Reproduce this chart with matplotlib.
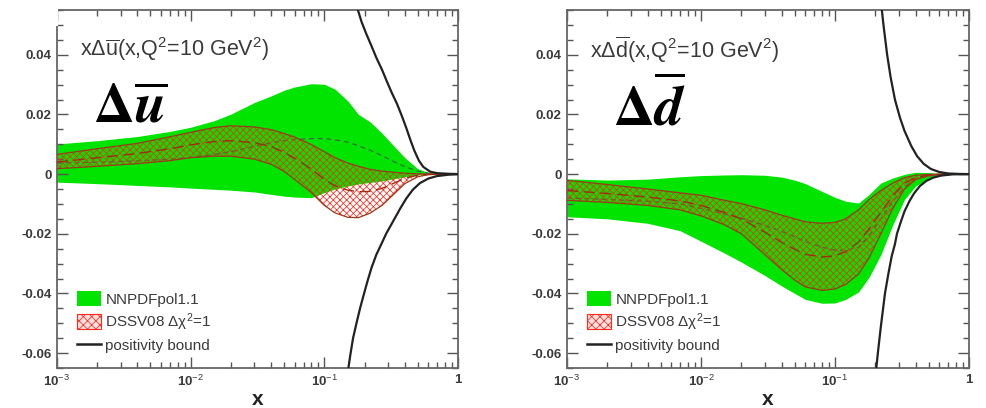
import numpy as np
import matplotlib
matplotlib.use("Agg")
import matplotlib.pyplot as plt
from matplotlib.patches import Patch, Rectangle
from matplotlib.lines import Line2D
from matplotlib.ticker import FixedLocator, LogLocator, MultipleLocator, FuncFormatter, NullFormatter

plt.rcParams['font.family'] = ['Liberation Sans', 'DejaVu Sans']
plt.rcParams['mathtext.fontset'] = 'custom'
plt.rcParams['mathtext.rm'] = 'Liberation Sans'
plt.rcParams['mathtext.it'] = 'Liberation Sans:italic'
plt.rcParams['mathtext.bf'] = 'Liberation Sans:bold'
plt.rcParams['hatch.linewidth'] = 0.55

# ---- data ----
x_grid = [0.001, 0.002, 0.004, 0.007, 0.01, 0.015, 0.02, 0.03, 0.04, 0.05, 0.06, 0.08,
          0.1, 0.12, 0.15, 0.18, 0.22, 0.27, 0.33, 0.4, 0.5, 0.6, 0.75, 1.0]

# x*Delta ubar
ubar_nn_hi = [0.0101, 0.0112, 0.0126, 0.0143, 0.0157, 0.0179, 0.0201, 0.0240, 0.0262, 0.0281, 0.0292, 0.0303,
              0.0301, 0.0285, 0.0245, 0.0200, 0.0175, 0.0137, 0.0095, 0.0055, 0.0018, 0.0005, 0.0001, 0.0]
ubar_nn_lo = [-0.0027, -0.0032, -0.0038, -0.0043, -0.0047, -0.0051, -0.0054, -0.0060, -0.0068, -0.0074, -0.0077, -0.0079,
              -0.0062, -0.0050, -0.0040, -0.0033, -0.0028, -0.0023, -0.0016, -0.0009, -0.0003, -0.0001, 0.0, 0.0]
ubar_nn_mid = [0.0037, 0.0040, 0.0044, 0.0050, 0.0056, 0.0066, 0.0075, 0.0093, 0.0105, 0.0112, 0.0116, 0.0119,
               0.0119, 0.0115, 0.0107, 0.0095, 0.0080, 0.0062, 0.0042, 0.0025, 0.0010, 0.0003, 0.0001, 0.0]
ubar_ds_hi = [0.0066, 0.0085, 0.0103, 0.0125, 0.0140, 0.0156, 0.0162, 0.0158, 0.0149, 0.0136, 0.0124, 0.0099,
              0.0075, 0.0055, 0.0037, 0.0026, 0.0016, 0.0010, 0.0006, 0.0003, 0.0001, 0.0, 0.0, 0.0]
ubar_ds_lo = [0.0018, 0.0026, 0.0035, 0.0045, 0.0055, 0.0060, 0.0060, 0.0050, 0.0033, 0.0009, -0.0018, -0.0062,
              -0.0105, -0.0130, -0.0145, -0.0146, -0.0131, -0.0105, -0.0068, -0.0032, -0.0009, -0.0002, 0.0, 0.0]
ubar_ds_mid = [0.0040, 0.0055, 0.0069, 0.0085, 0.0098, 0.0109, 0.0112, 0.0105, 0.0092, 0.0073, 0.0053, 0.0017,
               -0.0018, -0.0039, -0.0054, -0.0059, -0.0058, -0.0048, -0.0031, -0.0014, -0.0004, -0.0001, 0.0, 0.0]

# x*Delta dbar
dbar_nn_hi = [-0.0016, -0.0020, -0.0017, -0.0009, -0.0005, -0.0003, -0.0002, -0.0004, -0.0010, -0.0020, -0.0032, -0.0058,
              -0.0078, -0.0091, -0.0097, -0.0068, -0.0030, -0.0013, -0.0001, 0.0006, 0.0005, 0.0002, 0.0001, 0.0]
dbar_nn_lo = [-0.0143, -0.0150, -0.0165, -0.0190, -0.0225, -0.0265, -0.0295, -0.0340, -0.0375, -0.0400, -0.0420, -0.0433,
              -0.0432, -0.0420, -0.0395, -0.0345, -0.0270, -0.0170, -0.0085, -0.0040, -0.0015, -0.0005, -0.0001, 0.0]
dbar_nn_mid = [-0.0080, -0.0085, -0.0091, -0.0100, -0.0115, -0.0134, -0.0148, -0.0172, -0.0192, -0.0210, -0.0226, -0.0245,
               -0.0255, -0.0255, -0.0246, -0.0206, -0.0150, -0.0092, -0.0043, -0.0017, -0.0005, -0.0002, 0.0, 0.0]
dbar_ds_hi = [-0.0021, -0.0035, -0.0050, -0.0063, -0.0071, -0.0088, -0.0099, -0.0120, -0.0138, -0.0150, -0.0160, -0.0165,
              -0.0162, -0.0150, -0.0120, -0.0085, -0.0055, -0.0030, -0.0012, -0.0004, -0.0001, 0.0, 0.0, 0.0]
dbar_ds_lo = [-0.0088, -0.0095, -0.0105, -0.0120, -0.0140, -0.0170, -0.0200, -0.0270, -0.0320, -0.0355, -0.0378, -0.0390,
              -0.0385, -0.0370, -0.0335, -0.0280, -0.0200, -0.0115, -0.0050, -0.0018, -0.0006, -0.0002, 0.0, 0.0]
dbar_ds_mid = [-0.0055, -0.0065, -0.0077, -0.0090, -0.0105, -0.0129, -0.0150, -0.0195, -0.0229, -0.0252, -0.0269, -0.0278,
               -0.0274, -0.0260, -0.0228, -0.0183, -0.0128, -0.0073, -0.0031, -0.0011, -0.0003, -0.0001, 0.0, 0.0]

# positivity bounds
ubar_pos_up_x = [0.17, 0.19, 0.206, 0.225, 0.245, 0.27, 0.294, 0.32, 0.35, 0.38, 0.41, 0.44, 0.47, 0.51,
                 0.55, 0.62, 0.7, 0.85, 1.0]
ubar_pos_up_y = [0.058, 0.051, 0.047, 0.043, 0.039, 0.035, 0.031, 0.0272, 0.0235, 0.0195, 0.0155, 0.0115,
                 0.0080, 0.0045, 0.0024, 0.0008, 0.0003, 0.0001, 0.0]
ubar_pos_dn_x = [0.148, 0.156, 0.164, 0.175, 0.185, 0.197, 0.21, 0.225, 0.245, 0.27, 0.29, 0.33, 0.37,
                 0.41, 0.46, 0.52, 0.6, 0.69, 0.85, 1.0]
ubar_pos_dn_y = [-0.068, -0.061, -0.055, -0.0495, -0.045, -0.0405, -0.036, -0.0315, -0.027, -0.023, -0.020,
                 -0.0155, -0.0115, -0.0082, -0.0052, -0.0030, -0.0015, -0.0007, -0.0002, 0.0]
dbar_pos_up_x = [0.22, 0.23, 0.245, 0.26, 0.28, 0.305, 0.33, 0.37, 0.41, 0.46, 0.52, 0.6, 0.7, 0.85, 1.0]
dbar_pos_up_y = [0.058, 0.050, 0.040, 0.0325, 0.025, 0.019, 0.0145, 0.0095, 0.0060, 0.0034, 0.0017, 0.0007,
                 0.0002, 0.00005, 0.0]
dbar_pos_dn_x = [0.2, 0.21, 0.22, 0.236, 0.25, 0.265, 0.28, 0.29, 0.31, 0.33, 0.36, 0.39, 0.43, 0.48, 0.54,
                 0.62, 0.75, 1.0]
dbar_pos_dn_y = [-0.068, -0.059, -0.051, -0.040, -0.0335, -0.0275, -0.0235, -0.020, -0.0160, -0.0125, -0.0090,
                 -0.0064, -0.0040, -0.0023, -0.0012, -0.0005, -0.0001, 0.0]

titles = [u'x\u0394$\\overline{\\mathrm{u}}$(x,Q$^2$=10 GeV$^2$)',
          u'x\u0394$\\overline{\\mathrm{d}}$(x,Q$^2$=10 GeV$^2$)']
big_labels = [r'$\mathbf{\Delta}\overline{\boldsymbol{u}}$', r'$\mathbf{\Delta}\overline{\boldsymbol{d}}$']
legend_labels = ['NNPDFpol1.1', u'DSSV08 \u0394\u03c7$^2$=1', 'positivity bound']

green = '#00e400'
hatch_red = '#ff2a1a'
edge_red = '#9a3a1a'
txt = '#3a3a3a'

fig = plt.figure(figsize=(9.86, 4.08), dpi=100)
ax1 = fig.add_axes([57/986, 1-368/408, 401/986, 358/408])
ax2 = fig.add_axes([567/986, 1-368/408, 402/986, 358/408])

panels = [
    (ax1, ubar_nn_lo, ubar_nn_hi, ubar_nn_mid, ubar_ds_lo, ubar_ds_hi, ubar_ds_mid,
     ubar_pos_up_x, ubar_pos_up_y, ubar_pos_dn_x, ubar_pos_dn_y),
    (ax2, dbar_nn_lo, dbar_nn_hi, dbar_nn_mid, dbar_ds_lo, dbar_ds_hi, dbar_ds_mid,
     dbar_pos_up_x, dbar_pos_up_y, dbar_pos_dn_x, dbar_pos_dn_y),
]

for i, (ax, nlo, nhi, nmid, dlo, dhi, dmid, pux, puy, pdx, pdy) in enumerate(panels):
    ax.fill_between(x_grid, nlo, nhi, color=green, lw=0, zorder=1)
    ax.plot(x_grid, nmid, ls=(0, (4, 3)), color='#3d6b3d', lw=0.9, zorder=2)
    ax.fill_between(x_grid, dlo, dhi, facecolor='none', edgecolor=hatch_red,
                    hatch='xxxxx', lw=0, zorder=3)
    ax.plot(x_grid, dhi, color=edge_red, lw=0.9, zorder=4)
    ax.plot(x_grid, dlo, color=edge_red, lw=0.9, zorder=4)
    ax.plot(x_grid, dmid, ls=(0, (8, 4)), color='#a02a10', lw=1.0, zorder=4)
    ax.plot(pux, puy, color='#222222', lw=1.6, zorder=5)
    ax.plot(pdx, pdy, color='#222222', lw=1.6, zorder=5)

    ax.set_xscale('log')
    ax.set_xlim(1e-3, 1)
    ax.set_ylim(-0.065, 0.055)

    ax.xaxis.set_major_locator(FixedLocator([1e-3, 1e-2, 1e-1, 1]))
    ax.xaxis.set_minor_locator(LogLocator(base=10, subs=range(2, 10)))
    ax.xaxis.set_minor_formatter(NullFormatter())
    ax.set_xticklabels(['10$^{-3}$', '10$^{-2}$', '10$^{-1}$', '1'])
    ax.yaxis.set_major_locator(MultipleLocator(0.02))
    ax.yaxis.set_minor_locator(MultipleLocator(0.005))
    ax.yaxis.set_major_formatter(FuncFormatter(lambda v, p: '%g' % round(v, 3)))

    ax.tick_params(which='both', direction='in', top=True, right=True, color='#555555', width=1.0)
    ax.tick_params(which='major', length=8, labelsize=9.5, labelcolor=txt, pad=4)
    ax.tick_params(which='minor', length=4.5)
    for lab in ax.get_xticklabels() + ax.get_yticklabels():
        lab.set_fontweight('bold')
    for s in ax.spines.values():
        s.set_color('#666666')
        s.set_linewidth(1.3)

    ax.set_xlabel('x', fontsize=15, fontweight='bold', color='#222222', labelpad=1)

    ax.text(0.058, 0.89, titles[i], transform=ax.transAxes, fontsize=15.5, color=txt, va='center')
    ax.text(0.09 if i == 0 else 0.115, 0.725, big_labels[i], transform=ax.transAxes, fontsize=41,
            color='black', va='center', math_fontfamily='stix')

    handles = [Patch(facecolor=green, edgecolor='none'),
               Patch(facecolor='#ffe0e0', edgecolor=hatch_red, hatch='xxxx', lw=0.8),
               Line2D([0], [0], color='#222222', lw=1.8)]
    ax.legend(handles, legend_labels, loc='lower left', bbox_to_anchor=(0.035, 0.025),
              frameon=False, fontsize=11, labelcolor=txt, handlelength=1.55, handleheight=1.1,
              handletextpad=0.3, labelspacing=0.3, borderaxespad=0)

fig.add_artist(Rectangle((0, 1-26/408), 57.5/986, 26/408, transform=fig.transFigure,
                         facecolor='white', edgecolor='none', zorder=10))

fig.savefig('out.png', dpi=100)
